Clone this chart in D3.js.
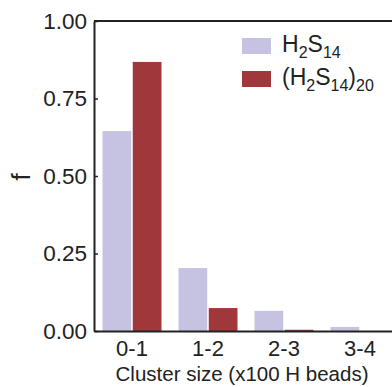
<!DOCTYPE html>
<html>
<head>
<meta charset="utf-8">
<script src="https://cdn.jsdelivr.net/npm/d3@7"></script>
<style>
    body { margin: 0; background: #fff; }
    svg text { font-family: "Liberation Sans", Arial, sans-serif; fill: #222; }
</style>
</head>
<body>
<div id="chart"></div>
<script>
// cluster size bins (x100 H beads)
let categories = ["0-1", "1-2", "2-3", "3-4"];
let seriesKeys = ["single", "pair"];
let singleValues = [0.645, 0.203, 0.065, 0.013];
let pairValues = [0.868, 0.074, 0.004, 0.0];
let yTicks = [0, 0.25, 0.5, 0.75, 1.0];

let colors = {single: "#c6c3e2", pair: "#a0383b"};

let width = 392, height = 387;
let plotLeft = 94, plotTop = 21, plotBottom = 331;

let svg = d3.select("#chart")
    .append("svg")
    .attr("width", width)
    .attr("height", height);

let x = d3.scaleBand()
    .domain(categories)
    .range([plotLeft, plotLeft + 4 * 76])
    .paddingInner(0.224)
    .paddingOuter(0.112);

let xInner = d3.scaleBand()
    .domain(seriesKeys)
    .range([0, x.bandwidth()])
    .paddingInner(0.05);

let y = d3.scaleLinear()
    .domain([0, 1])
    .range([plotBottom, plotTop]);

let rows = categories.map((c, i) => ({cat: c, single: singleValues[i], pair: pairValues[i]}));

let groups = svg.selectAll(".grp")
    .data(rows)
    .enter()
    .append("g")
    .attr("class", "grp")
    .attr("transform", d => "translate(" + x(d.cat) + ",0)");

groups.selectAll("rect")
    .data(d => seriesKeys.map(k => ({key: k, value: d[k]})))
    .enter()
    .append("rect")
    .attr("x", d => xInner(d.key))
    .attr("width", xInner.bandwidth())
    .attr("y", d => y(d.value))
    .attr("height", d => plotBottom - y(d.value))
    .attr("fill", d => colors[d.key]);

// top frame line
svg.append("line")
    .attr("x1", plotLeft).attr("x2", width)
    .attr("y1", plotTop).attr("y2", plotTop)
    .attr("stroke", "#222")
    .attr("stroke-width", 2);

let yAxis = d3.axisLeft(y)
    .tickValues(yTicks)
    .tickFormat(d3.format(".2f"))
    .tickSizeInner(-4)
    .tickSizeOuter(0)
    .tickPadding(7);

let gy = svg.append("g")
    .attr("transform", "translate(" + plotLeft + ",0)")
    .call(yAxis);
gy.select(".domain").attr("stroke", "#222").attr("stroke-width", 2);
gy.selectAll(".tick line").attr("stroke", "#222").attr("stroke-width", 1.5);
gy.selectAll("text").style("font-size", "22.5px").attr("fill", "#222");

let xAxis = d3.axisBottom(x)
    .tickSizeInner(0)
    .tickSizeOuter(0)
    .tickPadding(9);

let gx = svg.append("g")
    .attr("transform", "translate(0," + plotBottom + ")")
    .call(xAxis);
gx.select(".domain").attr("stroke", "#222").attr("stroke-width", 2);
gx.selectAll("text").style("font-size", "22px").attr("fill", "#222");

svg.append("text")
    .attr("x", 242)
    .attr("y", 381)
    .attr("text-anchor", "middle")
    .style("font-size", "20.5px")
    .text("Cluster size (x100 H beads)");

svg.append("text")
    .attr("transform", "translate(30,177) rotate(-90)")
    .attr("text-anchor", "middle")
    .style("font-size", "26px")
    .text("f");

// legend
let legend = svg.append("g");

legend.append("rect")
    .attr("x", 242).attr("y", 38)
    .attr("width", 29).attr("height", 16)
    .attr("fill", colors.single);

legend.append("rect")
    .attr("x", 242).attr("y", 71)
    .attr("width", 29).attr("height", 16)
    .attr("fill", colors.pair);

let t1 = legend.append("text")
    .attr("x", 282).attr("y", 52)
    .style("font-size", "23px");
t1.append("tspan").text("H");
t1.append("tspan").attr("dy", 6).style("font-size", "16px").text("2");
t1.append("tspan").attr("dy", -6).text("S");
t1.append("tspan").attr("dy", 6).style("font-size", "16px").text("14");

let t2 = legend.append("text")
    .attr("x", 282).attr("y", 85)
    .style("font-size", "23px");
t2.append("tspan").text("(H");
t2.append("tspan").attr("dy", 6).style("font-size", "16px").text("2");
t2.append("tspan").attr("dy", -6).text("S");
t2.append("tspan").attr("dy", 6).style("font-size", "16px").text("14");
t2.append("tspan").attr("dy", -6).text(")");
t2.append("tspan").attr("dy", 6).style("font-size", "16px").text("20");
</script>
</body>
</html>
